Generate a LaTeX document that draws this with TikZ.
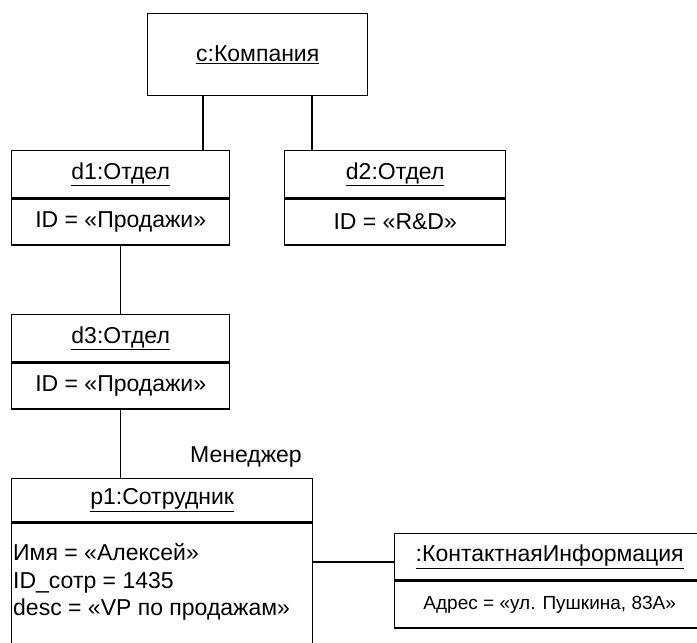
\documentclass[tikz,border=0pt]{standalone}
\usepackage{fontspec}
\setmainfont{Liberation Sans}
\usetikzlibrary{positioning}
\tikzset{
  objbox/.style={draw,line width=1.4pt,inner sep=0pt,anchor=north west},
  objname/.style={objbox,font=\fontsize{23}{27}\selectfont},
  objbody/.style={objname,anchor=north},
  attrs/.style={anchor=north west,inner sep=0pt,align=left,font=\fontsize{23}{27.5}\selectfont},
  assoc/.style={line width=1.4pt},
}

\begin{document}
\begin{tikzpicture}[x=1pt,y=1pt]
  \useasboundingbox (0,0) rectangle (697,-643);
  \clip (0,0) rectangle (697,-643);

  % company
  \node[objname,minimum width=220pt,minimum height=82pt] (c) at (147,-13) {\underline{c:Компания}};

  % departments
  \node[objname,minimum width=218pt,minimum height=47pt] (d1h) at (11,-150) {\underline{d1:Отдел}};
  \node[objbody,minimum width=218pt,minimum height=46pt] (d1b) at (d1h.south) {ID = «Продажи»};

  \node[objname,minimum width=221pt,minimum height=47pt] (d2h) at (284,-150) {\underline{d2:Отдел}};
  \node[objbody,minimum width=221pt,minimum height=46pt] (d2b) at (d2h.south) {ID = «R\&D»};

  \node[objname,minimum width=218pt,minimum height=47pt] (d3h) at (11,-314) {\underline{d3:Отдел}};
  \node[objbody,minimum width=218pt,minimum height=46pt] (d3b) at (d3h.south) {ID = «Продажи»};

  % employee
  \node[objname,minimum width=301pt,minimum height=43pt] (p1h) at (11,-478) {\underline{p1:Сотрудник}};
  \node[objbody,minimum width=301pt,minimum height=160pt] (p1b) at (p1h.south) {};
  \node[attrs] (p1a) at ([xshift=2pt,yshift=-21pt]p1b.north west)
    {Имя = «Алексей»\\ID\_сотр = 1435\\desc = «VP по продажам»};

  % contact info
  \node[objname,minimum width=310pt,minimum height=46pt] (ch) at (394,-533) {\underline{:КонтактнаяИнформация}};
  \node[objbody,minimum width=310pt,minimum height=47pt,font=\fontsize{19}{22}\selectfont] (cb) at (ch.south) {Адрес = «ул. Пушкина, 83А»};

  % links
  \coordinate (c-d1) at (203,0);
  \coordinate (c-d2) at (312,0);
  \coordinate (p-c) at (0,-562);
  \draw[assoc] (c.south -| c-d1) -- (d1h.north -| c-d1);
  \draw[assoc] (c.south -| c-d2) -- (d2h.north -| c-d2);
  \draw[assoc] (d1b) -- (d3h);
  \draw[assoc] (d3b.south) -- (d3b.south |- p1h.north);
  \draw[assoc] (p1b.east |- p-c) -- (ch.west |- p-c);

  \node[anchor=south west,inner sep=0pt,font=\fontsize{23}{27}\selectfont] (role) at (190,-467) {Менеджер};
\end{tikzpicture}
\end{document}
